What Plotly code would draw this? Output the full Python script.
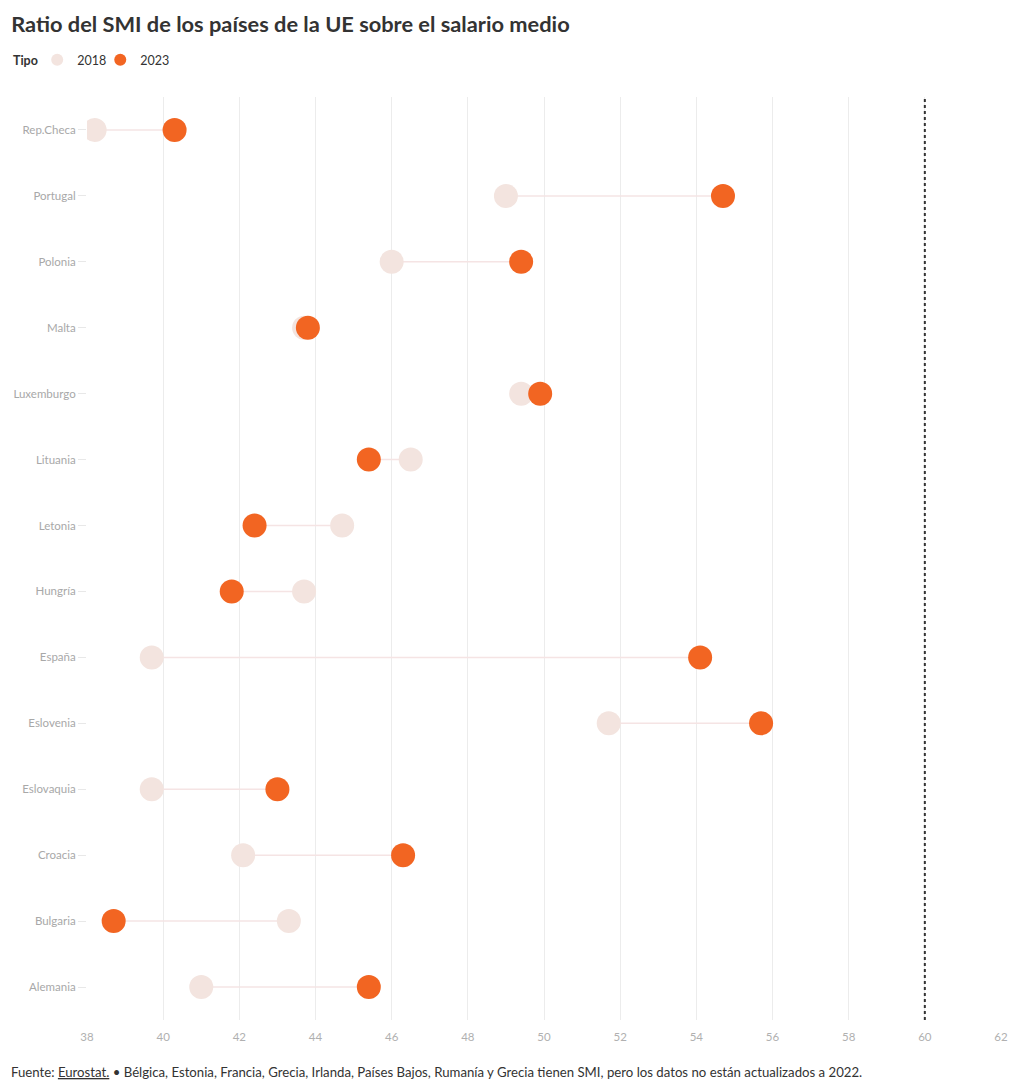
import plotly.graph_objects as go

countries = ["Rep.Checa", "Portugal", "Polonia", "Malta", "Luxemburgo", "Lituania", "Letonia",
             "Hungría", "España", "Eslovenia", "Eslovaquia", "Croacia", "Bulgaria", "Alemania"]
v2018 = [38.2, 49.0, 46.0, 43.7, 49.4, 46.5, 44.7, 43.7, 39.7, 51.7, 39.7, 42.1, 43.3, 41.0]
v2023 = [40.3, 54.7, 49.4, 43.8, 49.9, 45.4, 42.4, 41.8, 54.1, 55.7, 43.0, 46.3, 38.7, 45.4]
x_ticks = list(range(38, 63, 2))
ref_value = 60

FONT = "Lato"
C18 = "#f3e4df"
C23 = "#f26522"

fig = go.Figure()

lx, ly = [], []
for c, a, b in zip(countries, v2018, v2023):
    lx += [a, b, None]
    ly += [c, c, None]
fig.add_trace(go.Scatter(x=lx, y=ly, mode="lines", line=dict(color="#f5e4e4", width=1.5),
                         showlegend=False, hoverinfo="skip"))
fig.add_trace(go.Scatter(x=v2018, y=countries, mode="markers", name="2018", legend="legend",
                         marker=dict(color=C18, size=24, line=dict(width=0))))
fig.add_trace(go.Scatter(x=v2023, y=countries, mode="markers", name="2023", legend="legend2",
                         marker=dict(color=C23, size=24, line=dict(width=0))))

fig.add_shape(type="line", x0=ref_value, x1=ref_value, yref="paper", y0=0, y1=1,
              line=dict(color="#333333", width=2, dash="dot"))

leg_common = dict(orientation="h", xanchor="left", y=1.040, yanchor="middle",
                  font=dict(size=12.5, color="#333333"), itemsizing="constant",
                  itemwidth=30, bgcolor="rgba(0,0,0,0)")

fig.update_layout(
    width=1020, height=1092,
    paper_bgcolor="white", plot_bgcolor="white",
    margin=dict(l=87, r=19, t=97, b=72),
    font=dict(family=FONT, color="#333333"),
    title=dict(text="<b>Ratio del SMI de los países de la UE sobre el salario medio</b>",
               x=0.011, xanchor="left", y=0.978, yanchor="middle",
               font=dict(size=21.8, color="#333333", family=FONT)),
    legend=dict(x=-0.0545, **leg_common),
    legend2=dict(x=0.0145, **leg_common),
    xaxis=dict(range=[38, 62], tickvals=x_ticks, showgrid=True, gridcolor="#ececec",
               gridwidth=1, zeroline=False, showline=False,
               tickfont=dict(size=11.5, color="#b0b0b0"), ticks="", ticklabelstandoff=8),
    yaxis=dict(categoryorder="array", categoryarray=countries[::-1], range=[-0.5, 13.5],
               showgrid=False, zeroline=False, showline=False,
               ticks="outside", ticklen=8, tickcolor="#e8e8e8",
               tickfont=dict(size=11.5, color="#a8a8a8")),
    showlegend=True,
)

fig.add_annotation(text="<b>Tipo</b>", xref="paper", yref="paper", x=-0.0832, xanchor="left",
                   y=1.040, yanchor="middle", showarrow=False,
                   font=dict(size=12.5, color="#333333", family=FONT))

fig.add_annotation(
    text="Fuente: <u>Eurostat.</u> • Bélgica, Estonia, Francia, Grecia, Irlanda, Países Bajos, Rumanía y Grecia tienen SMI, pero los datos no están actualizados a 2022.",
    xref="paper", yref="paper", x=-0.0855, xanchor="left", y=-0.0565, yanchor="middle",
    showarrow=False, font=dict(size=13.2, color="#333333", family=FONT))

fig.write_html("out.html")
